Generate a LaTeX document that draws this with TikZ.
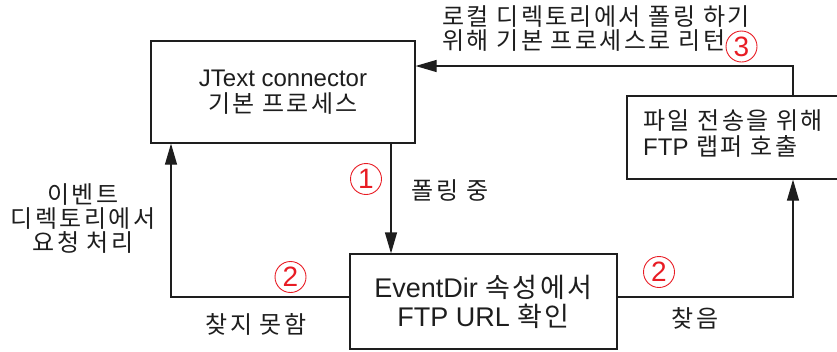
\documentclass[tikz,border=0pt]{standalone}
\usepackage{fontspec}
\setmainfont{Liberation Sans}
\newfontfamily\kr[LetterSpace=10]{Noto Sans CJK KR}
\usetikzlibrary{arrows.meta,calc}
\definecolor{markred}{RGB}{232,28,36}
\definecolor{ink}{RGB}{30,30,30}
\begin{document}
\begin{tikzpicture}[x=1bp,y=-1bp,
  box/.style={draw=ink,line width=1.2bp,inner sep=0pt,align=center,text=ink},
  lbl/.style={text=ink,font=\fontsize{24bp}{24bp}\selectfont\kr,inner sep=0pt},
  num/.style={circle,draw=markred,line width=0.9bp,minimum size=31bp,inner sep=0pt,
              text=markred,font=\fontsize{28bp}{28bp}\selectfont},
  flow/.style={draw=ink,line width=1.2bp,-{Triangle[length=21bp,width=12bp]}}]

\useasboundingbox (0,0) rectangle (837,351);

% process boxes
\node[box,minimum width=264bp,minimum height=102bp,
      font=\fontsize{24bp}{26bp}\selectfont] (A) at (283,92)
      {JText connector\\{\kr 기본 프로세스}};
\node[box,minimum width=267bp,minimum height=95bp,
      font=\fontsize{27bp}{29bp}\selectfont] (C) at (483.5,301.5)
      {EventDir {\kr 속성에서}\\FTP URL {\kr 확인}};
\node[box,minimum width=240bp,minimum height=83bp] (B) at (747,137.5) {};
\node[lbl,align=left,anchor=west,font=\fontsize{24bp}{26bp}\selectfont\kr] (Bt) at (643,134)
      {파일 전송을 위해\\{\rmfamily FTP} 랩퍼 호출};

% connectors
\coordinate (dn) at (391,0);
\draw[flow] (A.south -| dn) -- (C.north -| dn);
\coordinate (lo) at (171,297);
\draw[flow] (C.west |- lo) -| (A.south -| lo);
\coordinate (ro) at (793,297);
\draw[flow] (C.east |- ro) -| (B.south -| ro);
\coordinate (up) at (793,66);
\draw[flow] (B.north -| up) |- (A.east |- up);

% edge labels
\node[lbl,align=left,anchor=west] (ret) at (442,29)
      {로컬 디렉토리에서 폴링 하기\\위해 기본 프로세스로 리턴};
\node[lbl,align=center] (req) at (83,219) {이벤트\\디렉토리에서\\요청 처리};
\node[lbl] (poll) at (450,190) {폴링 중};
\node[lbl] (nf) at (256,324) {찾지 못함};
\node[lbl] (fd) at (695,318) {찾음};

% step markers
\node[num] (n1) at (366,179) {1};
\node[num] (n2a) at (290.5,277) {2};
\node[num] (n2b) at (659,272) {2};
\node[num] (n3) at (741.5,46.5) {3};
\end{tikzpicture}
\end{document}
